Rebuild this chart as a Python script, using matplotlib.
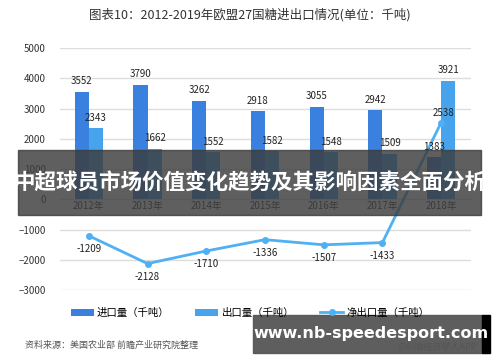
import numpy as np
import matplotlib.pyplot as plt
from matplotlib.patches import Rectangle

plt.rcParams['font.family'] = ['Noto Sans CJK SC', 'DejaVu Sans']

years = ['2012年', '2013年', '2014年', '2015年', '2016年', '2017年', '2018年']
imports = [3552, 3790, 3262, 2918, 3055, 2942, 1383]
exports = [2343, 1662, 1552, 1582, 1548, 1509, 3921]
net_exports = [-1209, -2128, -1710, -1336, -1507, -1433, 2538]

c_imp = '#3a80de'
c_exp = '#46a3ec'
c_net = '#4fb0f4'

fig = plt.figure(figsize=(5, 3.62), dpi=100)
ax = fig.add_axes([0.119, 0.199, 0.822, 0.668])

x = np.arange(len(years))
w = 0.24
b1 = ax.bar(x - w / 2, imports, w, color=c_imp, label='进口量（千吨）', zorder=2)
b2 = ax.bar(x + w / 2, exports, w, color=c_exp, label='出口量（千吨）', zorder=2)
l1, = ax.plot(x, net_exports, color=c_net, lw=2, marker='o', ms=4, label='净出口量（千吨）', zorder=3)

for i in range(len(years)):
    ax.annotate(str(imports[i]), (x[i] - w / 2, imports[i]), xytext=(0, 4),
                textcoords='offset points', ha='center', va='bottom', fontsize=7, color='#222222')
    ax.annotate(str(exports[i]), (x[i] + w / 2, exports[i]), xytext=(0, 4),
                textcoords='offset points', ha='center', va='bottom', fontsize=7, color='#222222')
    if net_exports[i] < 0:
        ax.annotate(str(net_exports[i]), (x[i], net_exports[i]), xytext=(0, -6),
                    textcoords='offset points', ha='center', va='top', fontsize=7, color='#222222')
    else:
        ax.annotate(str(net_exports[i]), (x[i], net_exports[i]), xytext=(2, 3),
                    textcoords='offset points', ha='center', va='bottom', fontsize=7, color='#222222')
    ax.text(x[i], -60, years[i], ha='center', va='top', fontsize=7, color='#333333')

ax.set_xlim(-0.5, 6.5)
ax.set_ylim(-3000, 5000)
ax.set_yticks(range(-3000, 5001, 1000))
ax.set_xticks([])
ax.tick_params(axis='y', length=0, labelsize=7, labelcolor='#333333', pad=10)
ax.grid(axis='y', color='#dddddd', lw=1, zorder=0)
for s in ax.spines.values():
    s.set_visible(False)

fig.text(0.5, 0.96, '图表10：2012-2019年欧盟27国糖进出口情况(单位：千吨)', ha='center', va='center',
         fontsize=9, color='#333333')

fig.legend([b1, b2, l1], ['进口量（千吨）', '出口量（千吨）', '净出口量（千吨）'],
           loc='center', bbox_to_anchor=(0.5, 0.135), ncol=3, frameon=False, fontsize=7.5,
           handlelength=2.2, columnspacing=2.5, handletextpad=0.3)

fig.text(0.05, 0.045, '资料来源：美国农业部 前瞻产业研究院整理', fontsize=6.5, color='#555555',
         style='italic', ha='left', va='center')
fig.text(0.955, 0.04, '@前瞻经济学人APP', fontsize=6.5, color='#555555', ha='right', va='center')

# overlay banner
fig.patches.append(Rectangle((0.036, 0.406), 0.926, 0.18, transform=fig.transFigure,
                             color='#3c3c3c', alpha=0.82, zorder=5))
fig.text(0.5, 0.496, '中超球员市场价值变化趋势及其影响因素全面分析', ha='center', va='center',
         fontsize=15.5, color='white', fontweight='bold', zorder=6)

fig.patches.append(Rectangle((0.506, 0.025), 0.458, 0.105, transform=fig.transFigure,
                             color='#555555', alpha=0.95, zorder=5))
fig.patches.append(Rectangle((0.964, 0.025), 0.016, 0.105, transform=fig.transFigure,
                             color='black', zorder=5))
fig.text(0.742, 0.078, 'www.nb-speedesport.com', ha='center', va='center',
         fontsize=11.5, color='white', fontweight='bold', family='DejaVu Sans', zorder=6)

fig.savefig('out.png', dpi=100)
